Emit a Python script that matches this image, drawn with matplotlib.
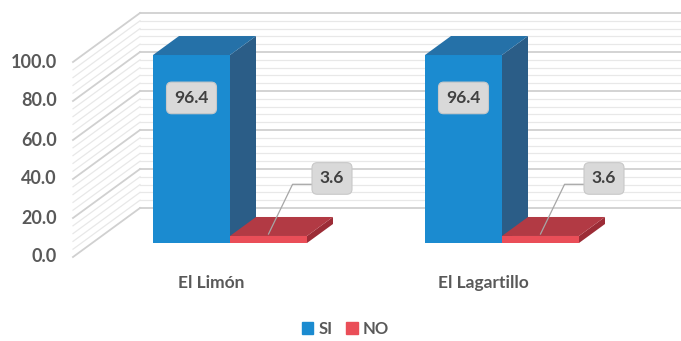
import numpy as np
import matplotlib.pyplot as plt
from matplotlib.patches import Polygon, Patch

# data
categories = ['El Limón', 'El Lagartillo']
si = [96.4, 96.4]
no = [3.6, 3.6]
yticks = [0, 20, 40, 60, 80, 100]

plt.rcParams['font.family'] = ['Lato', 'DejaVu Sans']
txt = '#595959'

# scale: px per category unit and px per value unit
sx = 272.0
sy = 1.95
w = 77 / sx
bar_d = (26 / sx, 19 / sy)      # bar depth
wall_d = (48 / sx, 35 / sy)     # bar front -> back wall
front_d = (-19 / sx, -14 / sy)  # bar front -> floor front edge

fig = plt.figure(figsize=(6.81, 3.41), dpi=100)
ax = fig.add_axes([0, 0, 1, 1])
ax.axis('off')
ax.set_xlim(-230 / sx, (681 - 230) / sx)
ax.set_ylim(-98 / sy, 243 / sy)
xmax = ax.get_xlim()[1]

x = np.arange(len(categories))
floor_x = -157 / sx
wall_x = floor_x + (wall_d[0] - front_d[0])

# back wall gridlines + left wall diagonals
for v in range(0, 101, 4):
    major = v % 20 == 0
    c = '#d0d0d0' if major else '#e8e8e8'
    lw = 1.3 if major else 0.9
    ax.plot([wall_x, xmax], [v + wall_d[1]] * 2, color=c, lw=lw, zorder=1)
    ax.plot([floor_x, wall_x], [v + front_d[1], v + wall_d[1]], color=c, lw=lw, zorder=1)

for v in yticks:
    ax.text(floor_x - 0.06, v + front_d[1], f'{v:.1f}', ha='right', va='center',
            fontsize=13, fontweight='bold', color=txt)


def bar3d(xc, v, front, top, side, z):
    x0, x1 = xc - w / 2, xc + w / 2
    dx, dy = bar_d
    ax.bar(xc, v, width=w, color=front, zorder=z)
    ax.add_patch(Polygon([(x1, 0), (x1 + dx, dy), (x1 + dx, v + dy), (x1, v)],
                         closed=True, fc=side, ec='none', zorder=z))
    ax.add_patch(Polygon([(x0, v), (x0 + dx, v + dy), (x1 + dx, v + dy), (x1, v)],
                         closed=True, fc=top, ec='none', zorder=z))


box = dict(boxstyle='round,pad=0.45,rounding_size=0.3', fc='#d9d9d9', ec='#c8c8c8', lw=0.8)
for i, g in enumerate(x):
    xb = g - w / 2
    xr = g + w / 2
    bar3d(xb, si[i], '#1b8bd0', '#2571a8', '#2b5d87', 3)
    bar3d(xr, no[i], '#ea4e58', '#b23a44', '#9c2c36', 4)
    ax.text(xb, si[i] - 22, f'{si[i]:.1f}', ha='center', va='center', fontsize=12.5,
            fontweight='bold', color='#404040', bbox=box, zorder=6)
    # leader line for small value
    lx, ly = g + 0.34, no[i] + 26.5
    ax.plot([xr, g + 0.23, lx - 0.03], [no[i] + 1, ly, ly], color='#a6a6a6', lw=0.9, zorder=5)
    ax.text(lx + 0.035, ly + 3, f'{no[i]:.1f}', ha='center', va='center', fontsize=12.5,
            fontweight='bold', color='#404040', bbox=box, zorder=6)
    ax.text(g + front_d[0], -20.5, categories[i], ha='center', va='center',
            fontsize=12.5, fontweight='bold', color=txt)

handles = [Patch(color='#1b8bd0', label='SI'), Patch(color='#ea4e58', label='NO')]
leg = fig.legend(handles=handles, loc='center', bbox_to_anchor=(0.507, 0.035), ncol=2,
                 frameon=False, handlelength=0.7, handleheight=0.7, handletextpad=0.3,
                 columnspacing=0.8, prop={'size': 12, 'weight': 'bold'})
for t in leg.get_texts():
    t.set_color(txt)

plt.savefig('out.png', dpi=100)
